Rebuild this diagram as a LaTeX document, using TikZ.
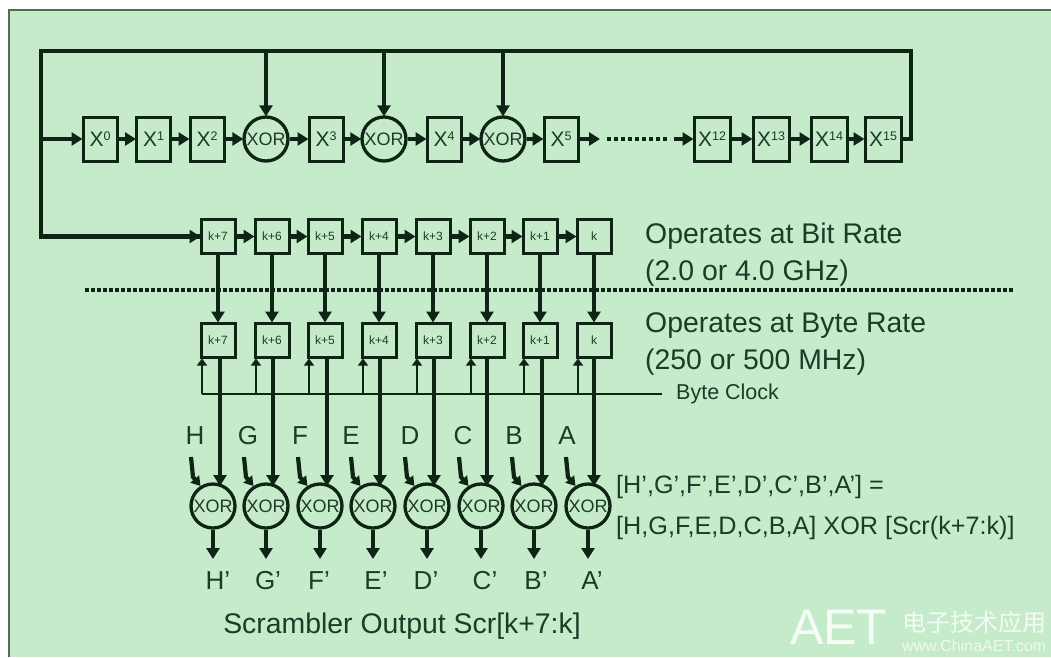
\documentclass[tikz,border=0pt]{standalone}
\usepackage{fontspec}
\setmainfont{Liberation Sans}
\newfontfamily\cjkfont{Noto Sans CJK SC}
\usetikzlibrary{arrows.meta,calc}
\definecolor{bgreen}{HTML}{C6EBCB}
\definecolor{inkline}{HTML}{0E2415}
\definecolor{inktext}{HTML}{1E3A28}
\definecolor{framegreen}{HTML}{4F6F55}
\newcommand{\Xsup}[1]{X\raisebox{6pt}{\fontsize{12.5}{12.5}\selectfont #1}}
\tikzset{
  fs/.style={font=\fontsize{#1}{#1}\selectfont},
  arr/.style={line width=4.2pt,draw=inkline,-{Triangle[length=11pt,width=13pt]},shorten >=-1pt},
  thickl/.style={line width=4.4pt,draw=inkline,line join=miter},
  clk/.style={line width=2pt,draw=inkline,-{Triangle[length=7pt,width=10pt]}},
  reg/.style={draw=inkline,line width=3pt,fill=bgreen,text=inktext,minimum width=34pt,minimum height=44pt,inner sep=0pt,fs=21},
  regw/.style={reg,minimum width=36pt},
  kbox/.style={draw=inkline,line width=3pt,fill=bgreen,text=inktext,minimum width=34pt,minimum height=34pt,inner sep=0pt,fs=12},
  xorc/.style={circle,draw=inkline,line width=3.3pt,fill=bgreen,text=inktext,minimum size=44pt,inner sep=0pt,fs=18},
  lab/.style={text=inktext,inner sep=0pt,fs=26},
  para/.style={text=inktext,inner sep=0pt,anchor=west,fs=28.4},
  eqn/.style={text=inktext,inner sep=0pt,anchor=west,fs=25.2}
}
\begin{document}
\begin{tikzpicture}[x=1pt,y=-1pt]
\useasboundingbox (0,0) rectangle (1051,657);
\fill[white] (0,0) rectangle (1051,657);
\fill[bgreen] (9,10) rectangle (1051,657);
\draw[framegreen,line width=2.2pt] (9,657) -- (9,10) -- (1051,10);
% LFSR row
\node[reg] (x0) at (100,139) {\Xsup{0}};
\node[reg] (x1) at (153.5,139) {\Xsup{1}};
\node[reg] (x2) at (207,139) {\Xsup{2}};
\node[xorc] (o1) at (266,139) {XOR};
\node[reg] (x3) at (326,139) {\Xsup{3}};
\node[xorc] (o2) at (384,139) {XOR};
\node[reg] (x4) at (444,139) {\Xsup{4}};
\node[xorc] (o3) at (503,139) {XOR};
\node[reg] (x5) at (561,139) {\Xsup{5}};
\node[regw] (x12) at (712,139) {\Xsup{12}};
\node[regw] (x13) at (771,139) {\Xsup{13}};
\node[regw] (x14) at (829,139) {\Xsup{14}};
\node[regw] (x15) at (883,139) {\Xsup{15}};
\foreach \a/\b in {x0/x1,x1/x2,x2/o1,o1/x3,x3/o2,o2/x4,x4/o3,o3/x5,x12/x13,x13/x14,x14/x15}
  \draw[arr] (\a) -- (\b);
\coordinate (dotA) at (599,139);
\coordinate (dotB) at (607,139);
\coordinate (dotC) at (670,139);
\coordinate (dotD) at (674,139);
\draw[arr] (x5) -- (dotA);
\draw[line width=4pt,draw=inkline,dash pattern=on 4pt off 3pt] (dotB) -- (dotC);
\draw[arr] (dotD) -- (x12);
% bit-rate row
\foreach \i/\x/\t in {7/218/k+7,6/272/k+6,5/325/k+5,4/379/k+4,3/433/k+3,2/487/k+2,1/540/k+1,0/594/k}
  \node[kbox] (k\i) at (\x,236.5) {\t};
\foreach \a/\b in {7/6,6/5,5/4,4/3,3/2,2/1,1/0}
  \draw[arr] (k\a) -- (k\b);
% feedback
\coordinate (fbr) at (911,139);
\coordinate (tr) at (911,51);
\coordinate (tl) at (41,51);
\coordinate (ml) at (41,139);
\coordinate (bl) at (41,236.5);
\draw[thickl] (x15.east) -- (fbr) -- (tr) -- (tl) -- (bl) -- (k7.west);
\draw[arr] (bl) -- (k7);
\draw[arr] (ml) -- (x0);
\foreach \o in {o1,o2,o3} {
  \coordinate (t\o) at (\o |- tl);
  \draw[arr] (t\o) -- (\o);
}
% rate separator
\coordinate (sepL) at (85,290);
\coordinate (sepR) at (1014,290);
\draw[line width=4.4pt,draw=inkline,dash pattern=on 3.6pt off 2.4pt] (sepL) -- (sepR);
% byte-rate row and XORs
\foreach \i/\x/\t/\c/\ck/\pl/\L/\lx/\Lp/\px in {
  7/218/k+7/213/202/220/H/195/H'/218,
  6/272/k+6/266/256/273/G/248/G'/268,
  5/325/k+5/320/309/327/F/300/F'/319,
  4/379/k+4/373/363/380/E/351/E'/376,
  3/433/k+3/427/417/434/D/410/D'/426,
  2/487/k+2/481/471/487/C/463/C'/485,
  1/540/k+1/534/524/542/B/514/B'/536,
  0/594/k/588/578/594/A/567/A'/592} {
  \node[kbox] (b\i) at (\x,340) {\t};
  \node[xorc] (c\i) at (\c,506) {XOR};
  \draw[arr] (k\i.south) -- (b\i.north);
  \coordinate (in\i) at (\pl,485);
  \draw[arr] (b\i.south -| in\i) -- (in\i);
  \coordinate (ck\i) at (\ck,394);
  \draw[clk] (ck\i) -- (ck\i |- b\i.south);
  \coordinate (out\i) at (\c,559);
  \draw[arr,shorten >=0pt] (c\i.south) -- (out\i);
  \node[lab] (l\i) at (\lx,436) {\L};
  \node[lab] (lp\i) at (\px,581) {\Lp};
  \coordinate (sA\i) at (\c-22,457);
  \coordinate (sB\i) at (\c-20,477);
  \draw[line width=4.2pt,draw=inkline,-{Triangle[length=9pt,width=11pt]}] (sA\i) -- (sB\i) -- (c\i.122);
}
\node[text=inktext,inner xsep=14pt,inner ysep=0pt,anchor=west,fs=21.5] (bc) at (662,394) {Byte Clock};
\draw[line width=2pt,draw=inkline] (ck7) -- (bc.west);
% texts
\node[para] (t1) at (645,236) {Operates at Bit Rate};
\node[para] (t2) at (645,273) {(2.0 or 4.0 GHz)};
\node[para] (t3) at (645,326) {Operates at Byte Rate};
\node[para] (t4) at (645,362) {(250 or 500 MHz)};
\node[eqn] (e1) at (616,487) {[H',G',F',E',D',C',B',A'] =};
\node[eqn] (e2) at (616,528) {[H,G,F,E,D,C,B,A] XOR [Scr(k+7:k)]};
\node[text=inktext,inner sep=0pt,fs=28.4] (sc) at (402,626) {Scrambler Output Scr[k+7:k]};
% watermark
\node[text=white,inner sep=0pt,anchor=west,fs=50,opacity=.85] (wm) at (790,627) {AET};
\node[text=white,inner sep=0pt,anchor=west,fs=24,opacity=.8] (wm2) at (902,622) {\cjkfont 电子技术应用};
\node[text=white,inner sep=0pt,anchor=west,fs=16,opacity=.7] (wm3) at (902,646) {www.ChinaAET.com};
\end{tikzpicture}
\end{document}
